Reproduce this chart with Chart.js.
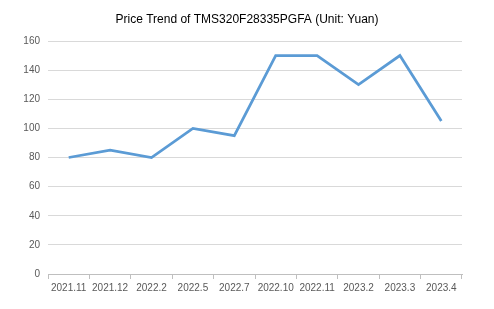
<!DOCTYPE html>
<html lang="en">
<head>
  <meta charset="UTF-8">
  <title>Price Trend</title>
  <script src="https://cdn.jsdelivr.net/npm/chart.js@4.4.1/dist/chart.umd.min.js"></script>
  <style>
    html, body { margin: 0; padding: 0; background: #fff; }
  </style>
</head>
<body>
  <canvas id="myChart" width="494" height="309"></canvas>
<script>
  // data
  var v_labels = ['2021.11', '2021.12', '2022.2', '2022.5', '2022.7', '2022.10', '2022.11', '2023.2', '2023.3', '2023.4'];
  var v_prices = [80, 85, 80, 100, 95, 150, 150, 130, 150, 105];
  var v_yTicks = [0, 20, 40, 60, 80, 100, 120, 140, 160];

  var ctx = document.getElementById('myChart').getContext('2d');
  var myChart = new Chart(ctx, {
    type: 'line',
    data: {
      labels: v_labels,
      datasets: [{
        label: 'Price',
        data: v_prices,
        borderColor: '#5b9bd5',
        borderWidth: 2.75,
        pointRadius: 0,
        tension: 0,
        fill: false
      }]
    },
    options: {
      responsive: false,
      animation: false,
      // title centred on whole canvas, plot area kept at 48..462
      layout: { padding: { left: 16, right: 16, top: 0, bottom: 0 } },
      plugins: {
        legend: { display: false },
        tooltip: { enabled: false },
        title: {
          display: true,
          text: 'Price Trend of TMS320F28335PGFA (Unit: Yuan)',
          color: '#000',
          font: { family: 'Liberation Sans', size: 12, weight: 'normal' },
          padding: { top: 12, bottom: 14.6 }
        }
      },
      scales: {
        x: {
          offset: true,
          grid: { display: true, drawOnChartArea: false, offset: true, tickLength: 5, color: '#bfbfbf' },
          border: { display: true, color: '#bfbfbf' },
          ticks: { color: '#595959', font: { family: 'Liberation Sans', size: 10 }, padding: 3, maxRotation: 0, autoSkip: false },
          afterFit: function(scale) { scale.height = 35; }
        },
        y: {
          min: v_yTicks[0],
          max: v_yTicks[v_yTicks.length - 1],
          grid: { color: '#d9d9d9', drawTicks: false },
          border: { display: false },
          ticks: { stepSize: 20, color: '#595959', font: { family: 'Liberation Sans', size: 10 }, padding: 8 },
          afterFit: function(scale) { scale.width = 32; }
        },
        y2: {
          position: 'right',
          min: 0, max: 160,
          grid: { drawOnChartArea: false, drawTicks: false },
          border: { display: false },
          ticks: { display: false },
          afterFit: function(scale) { scale.width = 16; }
        }
      }
    }
  });
</script>
</body>
</html>
